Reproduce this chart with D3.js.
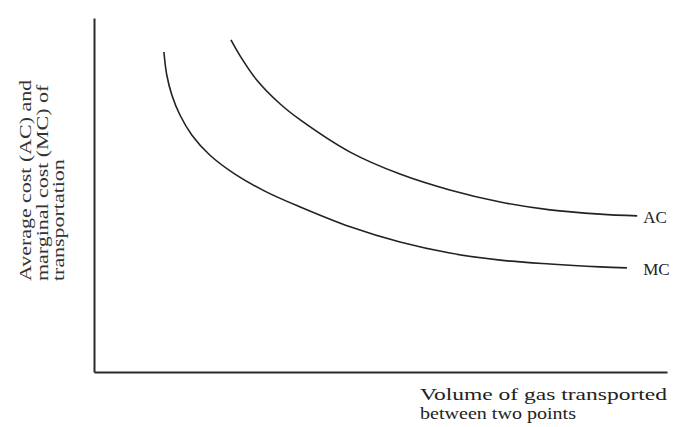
<!DOCTYPE html>
<html>
<head>
<meta charset="utf-8">
<script src="https://cdn.jsdelivr.net/npm/d3@7"></script>
<style>
  body { margin: 0; background: #fff; }
</style>
</head>
<body>
<div id="canvas"></div>
<script>
"use strict"

/* canvas size */
let svgWidth = 681;
let svgHeight = 427;

/* plot area in pixels */
let leftMargin = 94
let rightEdge = 667
let topMargin = 18
let axisY = 372

/* curves (volume 0-100, cost 0-100) */
let acVolume = [23.9, 25.5, 28.4, 32.5, 36, 44.7, 53.4, 62.1, 70.9, 79.6, 88.3, 94.8];
let acCost = [93.8, 89.3, 82.5, 75.7, 71.2, 62.1, 55.9, 51.4, 48, 45.8, 44.6, 44.1];
let mcVolume = [12.2, 12.7, 13.6, 15, 17.1, 20.2, 24.6, 29.8, 36, 44.7, 53.4, 62.1, 70.9, 79.6, 88.3, 93];
let mcCost = [90.4, 83.9, 78.2, 72.6, 66.9, 61.3, 55.9, 51.1, 46.6, 41, 36.7, 33.6, 31.6, 30.5, 29.7, 29.4];
let curveNames = ["AC", "MC"];

let yLabelLines = ["Average cost (AC) and", "marginal cost (MC) of", "transportation"];
let xLabelLines = ["Volume of gas transported", "between two points"];

let svg = d3.select("#canvas")
    .append("svg")
    .attr("width", svgWidth)
    .attr("height", svgHeight);

svg.append("rect")
    .attr("width", svgWidth)
    .attr("height", svgHeight)
    .attr("fill", "white");

let xScale = d3.scaleLinear()
    .domain([0, 100])
    .range([leftMargin, rightEdge]);

let yScale = d3.scaleLinear()
    .domain([0, 100])
    .range([axisY, topMargin]);

/* axes without ticks */
svg.append("g")
    .attr("transform", "translate(0," + axisY + ")")
    .call(d3.axisBottom(xScale).tickValues([]).tickSizeOuter(0))
    .select(".domain")
    .attr("stroke", "#2a2a2a")
    .attr("stroke-width", 2);

svg.append("g")
    .attr("transform", "translate(" + leftMargin + ",0)")
    .call(d3.axisLeft(yScale).tickValues([]).tickSizeOuter(0))
    .select(".domain")
    .attr("stroke", "#2a2a2a")
    .attr("stroke-width", 2);

/* the two cost curves */
let series = [
    { name: curveNames[0], points: acVolume.map((v, i) => [v, acCost[i]]) },
    { name: curveNames[1], points: mcVolume.map((v, i) => [v, mcCost[i]]) }
];

let line = d3.line()
    .x(d => xScale(d[0]))
    .y(d => yScale(d[1]))
    .curve(d3.curveCatmullRom.alpha(0.5));

svg.selectAll("path.curve")
    .data(series)
    .join("path")
    .attr("class", "curve")
    .attr("d", d => line(d.points))
    .attr("fill", "none")
    .attr("stroke", "#222")
    .attr("stroke-width", 1.6);

/* labels at the right end of each curve, both lined up */
let labelX = xScale(d3.max(acVolume)) + 6;
svg.selectAll("text.curveLabel")
    .data(series)
    .join("text")
    .attr("class", "curveLabel")
    .attr("x", labelX)
    .attr("y", d => yScale(d.points[d.points.length - 1][1]) + 7)
    .style("font-family", "Liberation Serif")
    .style("font-size", "17px")
    .attr("fill", "#222")
    .text(d => d.name);

/* y axis title, rotated; stretched along the line to match the wide face */
let yLabelStretch = 1.37;
yLabelLines.forEach(function (t, i) {
    let label = svg.append("text")
        .attr("transform", "translate(" + (31 + i * 16.5) + ",281) rotate(-90)")
        .style("font-family", "Liberation Serif")
        .style("font-size", "16px")
        .attr("fill", "#333")
        .text(t);
    let len = label.node().getComputedTextLength();
    label.attr("textLength", len * yLabelStretch)
        .attr("lengthAdjust", "spacingAndGlyphs");
});

/* x axis title */
xLabelLines.forEach(function (t, i) {
    svg.append("text")
        .attr("x", 420)
        .attr("y", 400 + i * 19)
        .attr("textLength", i == 0 ? 247 : 156)
        .attr("lengthAdjust", "spacingAndGlyphs")
        .style("font-family", "Liberation Serif")
        .style("font-size", "16.5px")
        .attr("fill", "#222")
        .text(t);
});
</script>
</body>
</html>
